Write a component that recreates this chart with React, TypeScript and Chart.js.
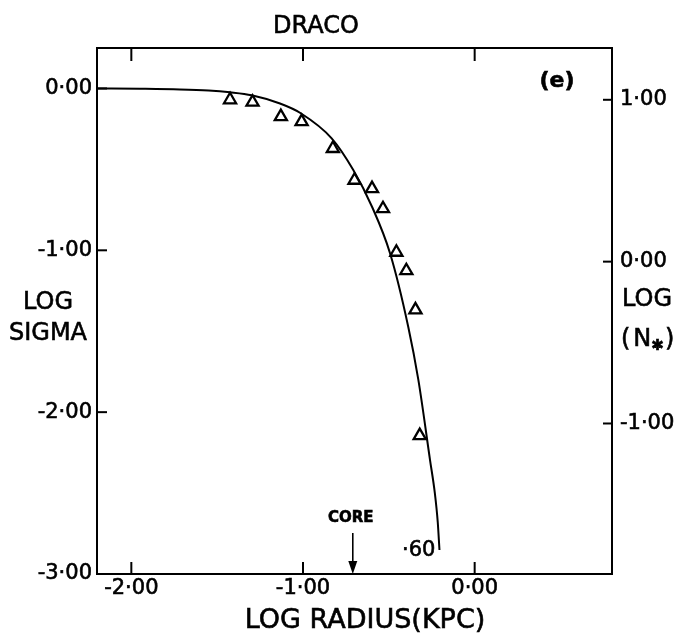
import { useEffect, useRef } from "react";
import { Chart, registerables } from "chart.js";

Chart.register(...registerables);

// ---- data ----
const curveLogR = [-2.2, -1.95, -1.717, -1.55, -1.425, -1.299, -1.134, -1.013, -0.833, -0.707, -0.598, -0.493, -0.387, -0.328, -0.26, -0.232, -0.215, -0.205];
const curveLogSigma = [0.0, -0.002, -0.006, -0.013, -0.024, -0.042, -0.093, -0.153, -0.308, -0.504, -0.731, -1.018, -1.472, -1.801, -2.296, -2.5, -2.68, -2.852];

const obsLogR = [-1.425, -1.294, -1.129, -1.008, -0.826, -0.7, -0.598, -0.534, -0.456, -0.398, -0.345, -0.32];
const obsLogSigma = [-0.07, -0.085, -0.174, -0.205, -0.371, -0.567, -0.619, -0.743, -1.012, -1.126, -1.368, -2.145];

const xTicks = [-2, -1, 0];
const sigmaTicks = [0, -1, -2, -3];
const nstarTicks = [1, 0, -1];
const nstarOffset = 1.07; // LOG(N*) = LOG SIGMA + offset
const coreLogR = -0.71;
const tidalLabel = "·60";

const xMin = -2.2;
const xMax = 0.8;
const yMin = -3;
const yMax = 0.25;

const FONT = "'DejaVu Sans', sans-serif";

const fmt = (v: number) => (v < 0 ? "-" : "") + Math.abs(v).toFixed(2).replace(".", "·");

const setTicks = (vals: number[]) => (scale: any) => {
  scale.ticks = vals.map((v) => ({ value: v }));
};

const annotations = {
  id: "annotations",
  afterDraw(chart: any) {
    const { ctx, chartArea: a, scales } = chart;
    ctx.save();
    ctx.strokeStyle = "#000";
    ctx.fillStyle = "#000";
    ctx.lineWidth = 2;
    const line = (x1: number, y1: number, x2: number, y2: number) => {
      ctx.beginPath();
      ctx.moveTo(x1, y1);
      ctx.lineTo(x2, y2);
      ctx.stroke();
    };
    // inward ticks
    xTicks.forEach((v) => {
      const px = scales.x.getPixelForValue(v);
      line(px, a.bottom, px, a.bottom - 12);
      line(px, a.top, px, a.top + 13);
    });
    sigmaTicks.forEach((v) => {
      const py = scales.y.getPixelForValue(v);
      line(a.left, py, a.left + 10, py);
    });
    nstarTicks.forEach((v) => {
      const py = scales.y2.getPixelForValue(v);
      line(a.right - 9, py, a.right, py);
    });

    const text = (s: string, x: number, y: number) => {
      ctx.lineWidth = 0.6;
      ctx.fillText(s, x, y);
      ctx.strokeText(s, x, y);
    };

    // texts
    ctx.textBaseline = "middle";
    ctx.textAlign = "center";
    ctx.font = `24px ${FONT}`;
    text("DRACO", 316, 27);
    text("LOG", 48, 303);
    text("SIGMA", 48, 334);
    ctx.font = `bold 22px ${FONT}`;
    text("(e)", 557, 81);
    ctx.font = `27px ${FONT}`;
    text("LOG RADIUS(KPC)", 365, 621);

    // right axis title
    ctx.textAlign = "left";
    ctx.font = `24px ${FONT}`;
    text("LOG", 622, 300);
    let x = 621;
    text("(", x, 340);
    x += ctx.measureText("(").width + 3;
    text("N", x, 340);
    x += ctx.measureText("N").width;
    ctx.font = `bold 15px ${FONT}`;
    text("✱", x, 346);
    x += ctx.measureText("✱").width + 1;
    ctx.font = `24px ${FONT}`;
    text(")", x, 340);

    // core arrow
    const cx = scales.x.getPixelForValue(coreLogR);
    ctx.textAlign = "center";
    ctx.font = `bold 15px ${FONT}`;
    text("CORE", cx - 2, 518);
    ctx.lineWidth = 1.6;
    line(cx, 533, cx, a.bottom - 8);
    ctx.beginPath();
    ctx.moveTo(cx - 4.5, a.bottom - 13);
    ctx.lineTo(cx + 4.5, a.bottom - 13);
    ctx.lineTo(cx, a.bottom);
    ctx.closePath();
    ctx.fill();

    // tidal label at curve end
    const n = curveLogR.length - 1;
    const ex = scales.x.getPixelForValue(curveLogR[n]);
    const ey = scales.y.getPixelForValue(curveLogSigma[n]);
    ctx.textAlign = "right";
    ctx.font = `21px ${FONT}`;
    text(tidalLabel, ex - 4, ey + 1);
    ctx.restore();
  },
};

export default function App() {
  const ref = useRef<HTMLCanvasElement>(null);
  useEffect(() => {
    if (!ref.current) return;
    Chart.defaults.font.family = FONT;
    Chart.defaults.color = "#000";
    const border = { display: true, color: "#000", width: 2 };
    const grid = { display: false, drawTicks: false };
    const tickFont = { size: 21, family: FONT };
    const tickCommon = {
      font: tickFont,
      color: "#000",
      autoSkip: false,
      maxRotation: 0,
      textStrokeColor: "#000",
      textStrokeWidth: 0.6,
      callback: (v: any) => fmt(Number(v)),
    };
    const chart = new Chart(ref.current, {
      type: "scatter",
      data: {
        datasets: [
          {
            type: "line",
            data: curveLogR.map((r, i) => ({ x: r, y: curveLogSigma[i] })),
            borderColor: "#000",
            borderWidth: 2,
            pointRadius: 0,
            fill: false,
            cubicInterpolationMode: "monotone",
            xAxisID: "x",
            yAxisID: "y",
          } as any,
          {
            type: "scatter",
            data: obsLogR.map((r, i) => ({ x: r, y: obsLogSigma[i] })),
            pointStyle: "triangle",
            pointRadius: 7,
            borderWidth: 2.3,
            borderColor: "#000",
            backgroundColor: "rgba(255,255,255,0)",
            xAxisID: "x",
            yAxisID: "y",
          },
        ],
      },
      options: {
        responsive: false,
        animation: false,
        devicePixelRatio: 1,
        layout: { padding: 0 },
        plugins: { legend: { display: false }, tooltip: { enabled: false }, title: { display: false } },
        scales: {
          x: {
            type: "linear",
            position: "bottom",
            min: xMin,
            max: xMax,
            afterBuildTicks: setTicks(xTicks),
            afterFit: (s: any) => { s.height = 61; },
            grid,
            border,
            ticks: { ...tickCommon, padding: 2 },
          },
          x2: {
            type: "linear",
            position: "top",
            min: xMin,
            max: xMax,
            afterBuildTicks: setTicks(xTicks),
            afterFit: (s: any) => { s.height = 48; },
            grid,
            border,
            ticks: { display: false },
          },
          y: {
            type: "linear",
            position: "left",
            min: yMin,
            max: yMax,
            afterBuildTicks: setTicks(sigmaTicks),
            afterFit: (s: any) => { s.width = 97; },
            grid,
            border,
            ticks: { ...tickCommon, padding: 5 },
          },
          y2: {
            type: "linear",
            position: "right",
            min: yMin + nstarOffset,
            max: yMax + nstarOffset,
            afterBuildTicks: setTicks(nstarTicks),
            afterFit: (s: any) => { s.width = 67; },
            grid,
            border,
            ticks: { ...tickCommon, padding: 8 },
          },
        },
      } as any,
      plugins: [annotations],
    });
    return () => chart.destroy();
  }, []);
  return (
    <div style={{ position: "absolute", left: 0, top: 0, width: 679, height: 635, background: "#fff" }}>
      <canvas ref={ref} width={679} height={635} style={{ display: "block", width: 679, height: 635 }} />
    </div>
  );
}
